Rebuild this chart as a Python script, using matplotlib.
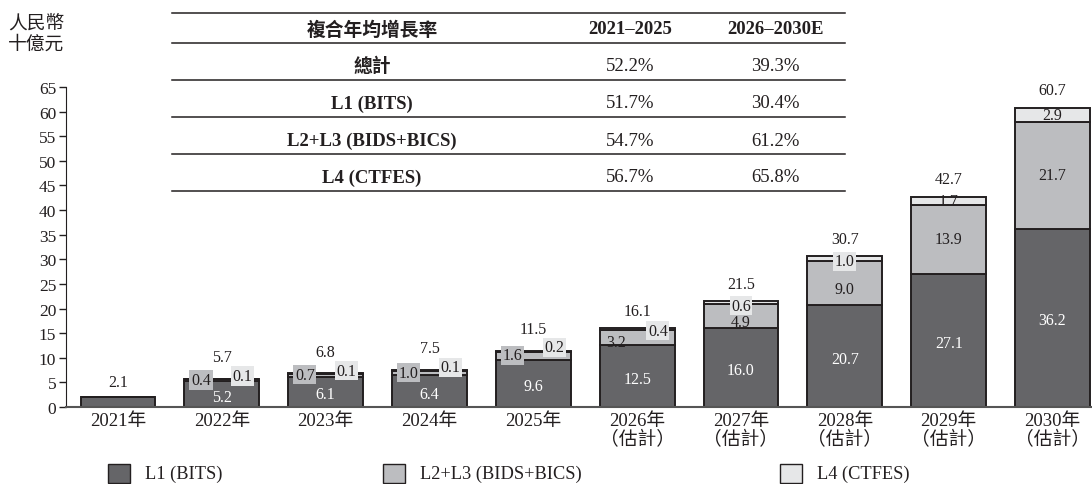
import matplotlib
matplotlib.use("Agg")
import matplotlib.pyplot as plt
from matplotlib.patches import Rectangle
from matplotlib.lines import Line2D
import numpy as np

plt.rcParams['font.family'] = ['Liberation Serif', 'Noto Sans CJK TC']

years = ["2021年", "2022年", "2023年", "2024年", "2025年",
         "2026年\n（估計）", "2027年\n（估計）", "2028年\n（估計）", "2029年\n（估計）", "2030年\n（估計）"]
l1 = [2.1, 5.2, 6.1, 6.4, 9.6, 12.5, 16.0, 20.7, 27.1, 36.2]
l23 = [0.0, 0.4, 0.7, 1.0, 1.6, 3.2, 4.9, 9.0, 13.9, 21.7]
l4 = [0.0, 0.1, 0.1, 0.1, 0.2, 0.4, 0.6, 1.0, 1.7, 2.9]
totals = [2.1, 5.7, 6.8, 7.5, 11.5, 16.1, 21.5, 30.7, 42.7, 60.7]

series_names = ["L1 (BITS)", "L2+L3 (BIDS+BICS)", "L4 (CTFES)"]

table_header = ["複合年均增長率", "2021–2025", "2026–2030E"]
table_rows = ["總計", "L1 (BITS)", "L2+L3 (BIDS+BICS)", "L4 (CTFES)"]
cagr_2125 = ["52.2%", "51.7%", "54.7%", "56.7%"]
cagr_2630 = ["39.3%", "30.4%", "61.2%", "65.8%"]

yticks = list(range(0, 70, 5))

C1, C2, C4 = "#656568", "#bcbdc0", "#e6e7e8"
EDGE = "#231f20"
TXT = "#231f20"

fig = plt.figure(figsize=(10.92, 4.85), dpi=100)
ax = fig.add_axes([66/1092, 1 - 408/485, 1 - 66/1092, 320/485])

x = np.arange(len(years))
w = 0.72
l1a, l23a, l4a = np.array(l1), np.array(l23), np.array(l4)
ax.bar(x, l1a, w, color=C1, edgecolor=EDGE, linewidth=1.4, zorder=2)
ax.bar(x, l23a, w, bottom=l1a, color=C2, edgecolor=EDGE, linewidth=1.4, zorder=2)
ax.bar(x, l4a, w, bottom=l1a + l23a, color=C4, edgecolor=EDGE, linewidth=1.4, zorder=2)

ax.set_xlim(-0.5, 9.38)
ax.set_ylim(0, 65)
ax.set_yticks(yticks)
ax.set_xticks(x)
ax.set_xticklabels(years, fontsize=13.5, color=TXT, linespacing=1.08)
ax.tick_params(axis='x', length=0, pad=3.5)
ax.tick_params(axis='y', length=5, width=1, labelsize=12.5, labelcolor=TXT, color=TXT, pad=2)
for s in ["top", "right"]:
    ax.spines[s].set_visible(False)
ax.spines["left"].set_color(TXT)
ax.spines["bottom"].set_color("#555555")
ax.spines["bottom"].set_linewidth(1.5)

fs = 11.5
for i in range(len(years)):
    c = x[i]
    b2 = l1[i]
    b4 = l1[i] + l23[i]
    if i == 0:
        ax.text(c, totals[i] + 3.0, f"{totals[i]:.1f}", ha='center', va='center', fontsize=fs, color=TXT)
        continue
    # L1 label
    ax.text(c, l1[i] / 2 - 0.5, f"{l1[i]:.1f}", ha='center', va='center', fontsize=fs, color='white', zorder=5)
    if l4[i] < 0.5:
        # side labels
        l4y = totals[i] + 0.6 if l23[i] < 2 else totals[i] - 0.6
        ax.text(c + 0.2, l4y, f"{l4[i]:.1f}", ha='center', va='center', fontsize=fs, color=TXT, zorder=6,
                bbox=dict(boxstyle='square,pad=0.1', fc=C4, ec='none'))
        if l23[i] < 2:
            ax.text(c - 0.2, b2 + l23[i] / 2 + 0.1, f"{l23[i]:.1f}", ha='center', va='center', fontsize=fs,
                    color=TXT, zorder=6, bbox=dict(boxstyle='square,pad=0.1', fc=C2, ec='none'))
            ty = max(totals[i] + 3.6, l4y + 3.8)
        else:
            ax.text(c - 0.2, b2 + l23[i] / 2 - 0.8, f"{l23[i]:.1f}", ha='center', va='center', fontsize=fs,
                    color=TXT, zorder=6)
            ty = totals[i] + 3.4
    elif l4[i] < 1.5:
        ax.text(c, b4 + l4[i] / 2 - 0.6, f"{l4[i]:.1f}", ha='center', va='center', fontsize=fs, color=TXT,
                zorder=6, bbox=dict(boxstyle='square,pad=0.1', fc=C4, ec='none'))
        ax.text(c, b2 + l23[i] / 2 - 1.2, f"{l23[i]:.1f}", ha='center', va='center', fontsize=fs, color=TXT, zorder=6)
        ty = totals[i] + 3.5
    else:
        ax.text(c, b4 + l4[i] / 2, f"{l4[i]:.1f}", ha='center', va='center', fontsize=fs, color=TXT, zorder=6)
        ax.text(c, b2 + l23[i] / 2, f"{l23[i]:.1f}", ha='center', va='center', fontsize=fs, color=TXT, zorder=6)
        ty = totals[i] + 3.7
    ax.text(c, ty, f"{totals[i]:.1f}", ha='center', va='center', fontsize=fs, color=TXT)

# y unit label
fig.text(8/1092, 1 - 34/485, "人民幣\n十億元", ha='left', va='center', fontsize=13.5, color=TXT,
         linespacing=1.0, family=['Noto Sans CJK TC'])

# table
def fx(px):
    return px / 1092
def fy(py):
    return 1 - py / 485

for ly in [14, 44, 81, 118, 155, 192]:
    fig.add_artist(Line2D([fx(172), fx(845)], [fy(ly), fy(ly)], color=TXT, linewidth=1.1))
col_x = [372, 630, 775]
fig.text(fx(col_x[0]), fy(30), table_header[0], ha='center', va='center', fontsize=13.5, weight='bold',
         color=TXT, family=['Noto Sans CJK TC'])
fig.text(fx(col_x[1]), fy(30), table_header[1], ha='center', va='center', fontsize=13.5, weight='bold', color=TXT)
fig.text(fx(col_x[2]), fy(30), table_header[2], ha='center', va='center', fontsize=13.5, weight='bold', color=TXT)
row_y = [67, 104, 141, 178]
for j in range(len(table_rows)):
    fig.text(fx(col_x[0]), fy(row_y[j]), table_rows[j], ha='center', va='center', fontsize=13.5, weight='bold',
             color=TXT)
    fig.text(fx(col_x[1]), fy(row_y[j]), cagr_2125[j], ha='center', va='center', fontsize=13.5, color=TXT)
    fig.text(fx(col_x[2]), fy(row_y[j]), cagr_2630[j], ha='center', va='center', fontsize=13.5, color=TXT)

# legend
leg_x = [108, 383, 780]
for k, colr in enumerate([C1, C2, C4]):
    fig.add_artist(Rectangle((fx(leg_x[k]), fy(484)), 22 / 1092, 19 / 485, transform=fig.transFigure,
                             facecolor=colr, edgecolor=EDGE, linewidth=1.0))
    fig.text(fx(leg_x[k] + 37), fy(474), series_names[k], ha='left', va='center', fontsize=13.2, color=TXT)

fig.savefig("out.png", dpi=100)
